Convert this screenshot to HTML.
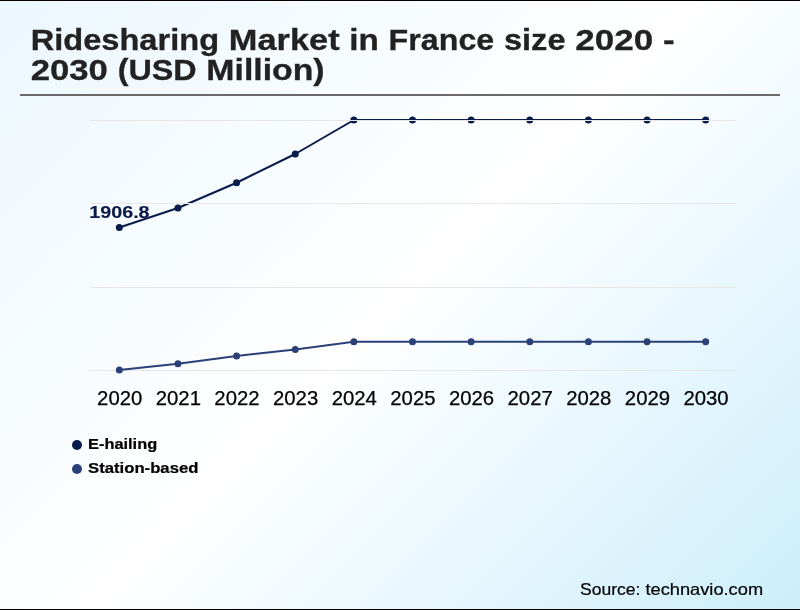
<!DOCTYPE html>
<html><head><meta charset="utf-8"><title>Ridesharing Market in France size 2020 - 2030 (USD Million)</title>
<style>
html,body{margin:0;padding:0;}
body{width:800px;height:610px;overflow:hidden;background:#fff;font-family:"Liberation Sans", sans-serif;}
#wrap{position:relative;width:800px;height:610px;background:linear-gradient(135deg,#ecf7fe 0%,#ffffff 50%,#cceefb 100%);}
svg{position:absolute;left:0;top:0;}
text{font-family:"Liberation Sans", sans-serif;white-space:pre;}
svg{will-change:transform;}
</style></head><body>
<div id="wrap">
<svg width="800" height="610" viewBox="0 0 800 610">
<defs><filter id="halo" x="-10%" y="-30%" width="120%" height="160%" color-interpolation-filters="sRGB">
<feMorphology in="SourceAlpha" operator="dilate" radius="1" result="d"/>
<feGaussianBlur in="d" stdDeviation="0.4" result="b"/>
<feFlood flood-color="#ffffff" flood-opacity="0.9"/>
<feComposite in2="b" operator="in" result="h"/>
<feMerge><feMergeNode in="h"/><feMergeNode in="SourceGraphic"/></feMerge>
</filter></defs>
<rect x="0" y="0" width="800" height="1" fill="#000"/>
<rect x="0" y="609" width="800" height="1" fill="#000"/>
<rect x="20" y="94" width="760" height="2" fill="#6a6a6a"/>
<text x="89.24" y="218.3" font-size="16.00" textLength="60.35" lengthAdjust="spacingAndGlyphs" font-weight="bold" fill="#091b4a" stroke="#091b4a" stroke-width="0.17" filter="url(#halo)">1906.8</text>
<polyline points="119.32,227.50 177.95,208.00 236.59,182.75 295.23,154.00 353.86,120.00 412.50,120.00 471.14,120.00 529.77,120.00 588.41,120.00 647.05,120.00 705.68,120.00" fill="none" stroke="#091b4a" stroke-width="2" stroke-linejoin="round" stroke-linecap="round"/>
<circle cx="119.32" cy="227.50" r="3.5" fill="#091b4a"/>
<circle cx="177.95" cy="208.00" r="3.5" fill="#091b4a"/>
<circle cx="236.59" cy="182.75" r="3.5" fill="#091b4a"/>
<circle cx="295.23" cy="154.00" r="3.5" fill="#091b4a"/>
<circle cx="353.86" cy="120.00" r="3.5" fill="#091b4a"/>
<circle cx="412.50" cy="120.00" r="3.5" fill="#091b4a"/>
<circle cx="471.14" cy="120.00" r="3.5" fill="#091b4a"/>
<circle cx="529.77" cy="120.00" r="3.5" fill="#091b4a"/>
<circle cx="588.41" cy="120.00" r="3.5" fill="#091b4a"/>
<circle cx="647.05" cy="120.00" r="3.5" fill="#091b4a"/>
<circle cx="705.68" cy="120.00" r="3.5" fill="#091b4a"/>
<rect x="90" y="120" width="646" height="1" fill="#e6e6e6"/>
<rect x="90" y="203" width="646" height="1" fill="#e6e6e6"/>
<rect x="90" y="287" width="646" height="1" fill="#e6e6e6"/>
<rect x="90" y="370" width="646" height="1" fill="#e6e6e6"/>
<polyline points="119.32,370.00 177.95,363.75 236.59,356.00 295.23,349.50 353.86,341.75 412.50,341.75 471.14,341.75 529.77,341.75 588.41,341.75 647.05,341.75 705.68,341.75" fill="none" stroke="#2b4077" stroke-width="2" stroke-linejoin="round" stroke-linecap="round"/>
<circle cx="119.32" cy="370.00" r="3.5" fill="#2b4077"/>
<circle cx="177.95" cy="363.75" r="3.5" fill="#2b4077"/>
<circle cx="236.59" cy="356.00" r="3.5" fill="#2b4077"/>
<circle cx="295.23" cy="349.50" r="3.5" fill="#2b4077"/>
<circle cx="353.86" cy="341.75" r="3.5" fill="#2b4077"/>
<circle cx="412.50" cy="341.75" r="3.5" fill="#2b4077"/>
<circle cx="471.14" cy="341.75" r="3.5" fill="#2b4077"/>
<circle cx="529.77" cy="341.75" r="3.5" fill="#2b4077"/>
<circle cx="588.41" cy="341.75" r="3.5" fill="#2b4077"/>
<circle cx="647.05" cy="341.75" r="3.5" fill="#2b4077"/>
<circle cx="705.68" cy="341.75" r="3.5" fill="#2b4077"/>
<circle cx="77" cy="445" r="5" fill="#091b4a"/>
<circle cx="77" cy="469" r="5" fill="#2b4077"/>
<text x="30.70" y="50.0" font-size="29.54" textLength="188.38" lengthAdjust="spacingAndGlyphs" font-weight="bold" fill="#222" stroke="#222" stroke-width="0.3">Ridesharing</text>
<text x="228.81" y="50.0" font-size="29.54" textLength="110.83" lengthAdjust="spacingAndGlyphs" font-weight="bold" fill="#222" stroke="#222" stroke-width="0.3">Market</text>
<text x="349.38" y="50.0" font-size="29.54" textLength="29.53" lengthAdjust="spacingAndGlyphs" font-weight="bold" fill="#222" stroke="#222" stroke-width="0.3">in</text>
<text x="388.64" y="50.0" font-size="29.54" textLength="105.58" lengthAdjust="spacingAndGlyphs" font-weight="bold" fill="#222" stroke="#222" stroke-width="0.3">France</text>
<text x="503.95" y="50.0" font-size="29.54" textLength="61.56" lengthAdjust="spacingAndGlyphs" font-weight="bold" fill="#222" stroke="#222" stroke-width="0.3">size</text>
<text x="575.25" y="50.0" font-size="29.54" textLength="77.95" lengthAdjust="spacingAndGlyphs" font-weight="bold" fill="#222" stroke="#222" stroke-width="0.3">2020</text>
<text x="662.94" y="50.0" font-size="29.54" textLength="11.62" lengthAdjust="spacingAndGlyphs" font-weight="bold" fill="#222" stroke="#222" stroke-width="0.3">-</text>
<text x="30.70" y="80.0" font-size="29.54" textLength="77.24" lengthAdjust="spacingAndGlyphs" font-weight="bold" fill="#222" stroke="#222" stroke-width="0.3">2030</text>
<text x="117.67" y="80.0" font-size="29.54" textLength="78.95" lengthAdjust="spacingAndGlyphs" font-weight="bold" fill="#222" stroke="#222" stroke-width="0.3">(USD</text>
<text x="206.36" y="80.0" font-size="29.54" textLength="118.23" lengthAdjust="spacingAndGlyphs" font-weight="bold" fill="#222" stroke="#222" stroke-width="0.3">Million)</text>
<text x="97.11" y="404.5" font-size="19.35" textLength="45.21" lengthAdjust="spacingAndGlyphs" fill="#000" stroke="#000" stroke-width="0.25">2020</text>
<text x="155.74" y="404.5" font-size="19.35" textLength="45.21" lengthAdjust="spacingAndGlyphs" fill="#000" stroke="#000" stroke-width="0.25">2021</text>
<text x="214.38" y="404.5" font-size="19.35" textLength="45.21" lengthAdjust="spacingAndGlyphs" fill="#000" stroke="#000" stroke-width="0.25">2022</text>
<text x="273.02" y="404.5" font-size="19.35" textLength="45.21" lengthAdjust="spacingAndGlyphs" fill="#000" stroke="#000" stroke-width="0.25">2023</text>
<text x="331.65" y="404.5" font-size="19.35" textLength="45.21" lengthAdjust="spacingAndGlyphs" fill="#000" stroke="#000" stroke-width="0.25">2024</text>
<text x="390.29" y="404.5" font-size="19.35" textLength="45.21" lengthAdjust="spacingAndGlyphs" fill="#000" stroke="#000" stroke-width="0.25">2025</text>
<text x="448.93" y="404.5" font-size="19.35" textLength="45.21" lengthAdjust="spacingAndGlyphs" fill="#000" stroke="#000" stroke-width="0.25">2026</text>
<text x="507.56" y="404.5" font-size="19.35" textLength="45.21" lengthAdjust="spacingAndGlyphs" fill="#000" stroke="#000" stroke-width="0.25">2027</text>
<text x="566.20" y="404.5" font-size="19.35" textLength="45.21" lengthAdjust="spacingAndGlyphs" fill="#000" stroke="#000" stroke-width="0.25">2028</text>
<text x="624.84" y="404.5" font-size="19.35" textLength="45.21" lengthAdjust="spacingAndGlyphs" fill="#000" stroke="#000" stroke-width="0.25">2029</text>
<text x="683.47" y="404.5" font-size="19.35" textLength="45.21" lengthAdjust="spacingAndGlyphs" fill="#000" stroke="#000" stroke-width="0.25">2030</text>
<text x="88.00" y="448.6" font-size="14.77" textLength="69.19" lengthAdjust="spacingAndGlyphs" font-weight="bold" fill="#000" stroke="#000" stroke-width="0.22">E-hailing</text>
<text x="88.00" y="472.6" font-size="14.77" textLength="110.44" lengthAdjust="spacingAndGlyphs" font-weight="bold" fill="#000" stroke="#000" stroke-width="0.22">Station-based</text>
<text x="580.00" y="595.0" font-size="17.12" textLength="60.34" lengthAdjust="spacingAndGlyphs" fill="#000" stroke="#000" stroke-width="0.2">Source:</text>
<text x="645.42" y="595.0" font-size="17.12" textLength="117.69" lengthAdjust="spacingAndGlyphs" fill="#000" stroke="#000" stroke-width="0.2">technavio.com</text>
</svg>
</div>
</body></html>
